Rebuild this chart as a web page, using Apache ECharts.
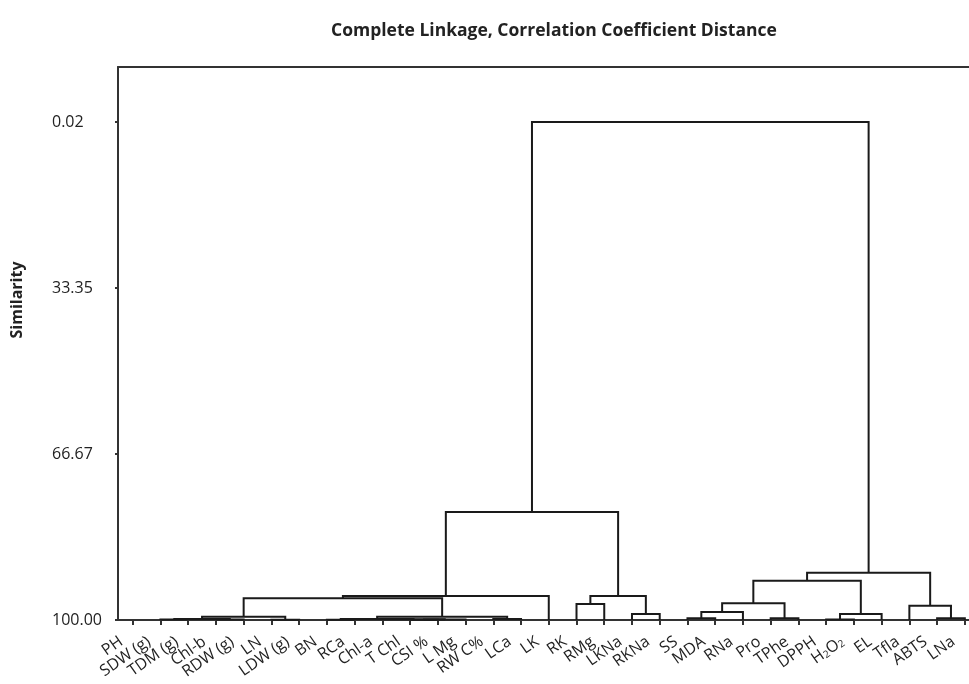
<!DOCTYPE html>
<html>
<head>
<meta charset="utf-8">
<script src="https://cdn.jsdelivr.net/npm/echarts@6/dist/echarts.min.js"></script>
<style>
  html, body { margin: 0; padding: 0; background: #fff; }
  #chart { width: 969px; height: 684px; }
</style>
</head>
<body>
<div id="chart"></div>
<script>
// leaves, left to right
const leaves = [
  "PH", "SDW (g)", "TDM (g)", "Chl-b", "RDW (g)", "LN", "LDW (g)", "BN", "RCa",
  "Chl-a", "T Chl", "CSI %", "L Mg", "RW C%", "LCa", "LK", "RK", "RMg", "LKNa",
  "RKNa", "SS", "MDA", "RNa", "Pro", "TPhe", "DPPH", "H2O2", "EL", "Tfla", "ABTS", "LNa"
];
const leafTicks = leaves.map((_, i) => i);
const yTicks = [0.02, 33.35, 66.67, 100];

// merges: [left id, right id, similarity]; new nodes get ids 31, 32, ...
const linkage = [
  [1, 2, 99.92],   // 31
  [3, 4, 99.92],   // 32
  [31, 32, 99.82], // 33
  [5, 6, 99.95],   // 34
  [33, 34, 99.33], // 35
  [7, 8, 99.95],   // 36
  [10, 11, 99.95], // 37
  [37, 12, 99.9],  // 38
  [9, 38, 99.86],  // 39
  [36, 39, 99.8],  // 40
  [13, 14, 99.8],  // 41
  [40, 41, 99.33], // 42
  [35, 42, 95.64], // 43
  [43, 15, 95.18], // 44
  [16, 17, 96.79], // 45
  [18, 19, 98.79], // 46
  [45, 46, 95.18], // 47
  [44, 47, 78.3],  // 48
  [20, 21, 99.66], // 49
  [49, 22, 98.39], // 50
  [23, 24, 99.66], // 51
  [50, 51, 96.64], // 52
  [25, 26, 99.92], // 53
  [53, 27, 98.8],  // 54
  [52, 54, 92.1],  // 55
  [29, 30, 99.66], // 56
  [28, 56, 97.13], // 57
  [55, 57, 90.5],  // 58
  [48, 58, 0.02]   // 59
];

// node positions: a merged node sits midway between its children
const nodeX = leaves.map((_, i) => i);
const nodeH = leaves.map(() => 100);
const segments = [];
linkage.forEach(([a, b, h]) => {
  segments.push([nodeX[a], nodeH[a], nodeX[b], nodeH[b], h]);
  nodeX.push((nodeX[a] + nodeX[b]) / 2);
  nodeH.push(h);
});

const FONT = "Open Sans";
const chart = echarts.init(document.getElementById("chart"));

chart.setOption({
  animation: false,
  title: {
    text: "Complete Linkage, Correlation Coefficient Distance",
    left: 326,
    top: 17,
    textStyle: { fontFamily: FONT, fontSize: 17.5, fontWeight: "bold", color: "#222" }
  },
  graphic: [{
    type: "text",
    x: 17,
    y: 300,
    rotation: Math.PI / 2,
    style: {
      text: "Similarity",
      fontFamily: FONT, fontSize: 16, fontWeight: "bold", fill: "#222",
      textAlign: "center", textVerticalAlign: "middle"
    }
  }],
  grid: { left: 118, right: 0, top: 67, bottom: 64 },
  xAxis: [
    {
      type: "value",
      min: -0.53,
      max: 30.15,
      axisLine: { show: true, onZero: false, lineStyle: { color: "#333", width: 2 } },
      axisTick: { show: true, customValues: leafTicks, length: 5, lineStyle: { color: "#333", width: 2 } },
      axisLabel: {
        customValues: leafTicks,
        rotate: 35,
        margin: 12,
        padding: [0, 14, 0, 0],
        fontFamily: FONT,
        fontSize: 16,
        color: "#222",
        formatter: (v) => v === 26 ? "{n|H}{s|2}{n|O}{s|2}" : leaves[v],
        rich: {
          n: { fontFamily: FONT, fontSize: 16, color: "#222" },
          s: { fontFamily: FONT, fontSize: 10, color: "#222", verticalAlign: "bottom", padding: [6, 0, 0, 0] }
        }
      },
      splitLine: { show: false }
    },
    {
      type: "value",
      position: "top",
      min: -0.53,
      max: 30.15,
      axisLine: { show: true, onZero: false, lineStyle: { color: "#333", width: 2 } },
      axisTick: { show: false },
      axisLabel: { show: false },
      splitLine: { show: false }
    }
  ],
  yAxis: {
    type: "value",
    inverse: true,
    min: -11.03,
    max: 100,
    axisLine: { show: true, onZero: false, lineStyle: { color: "#333", width: 2 } },
    axisTick: { show: true, customValues: yTicks, length: 3, lineStyle: { color: "#333", width: 2 } },
    axisLabel: {
      customValues: yTicks,
      formatter: (v) => v.toFixed(2),
      align: "left",
      margin: 66,
      fontFamily: FONT,
      fontSize: 16,
      color: "#222"
    },
    splitLine: { show: false }
  },
  series: [{
    type: "custom",
    xAxisIndex: 0,
    data: segments,
    encode: { x: [0, 2], y: [1, 3, 4] },
    renderItem: (params, api) => {
      const p1 = api.coord([api.value(0), api.value(1)]);
      const p2 = api.coord([api.value(0), api.value(4)]);
      const p3 = api.coord([api.value(2), api.value(4)]);
      const p4 = api.coord([api.value(2), api.value(3)]);
      return {
        type: "polyline",
        shape: { points: [p1, p2, p3, p4] },
        style: { stroke: "#1a1a1a", lineWidth: 2, fill: null }
      };
    }
  }]
});
</script>
</body>
</html>
